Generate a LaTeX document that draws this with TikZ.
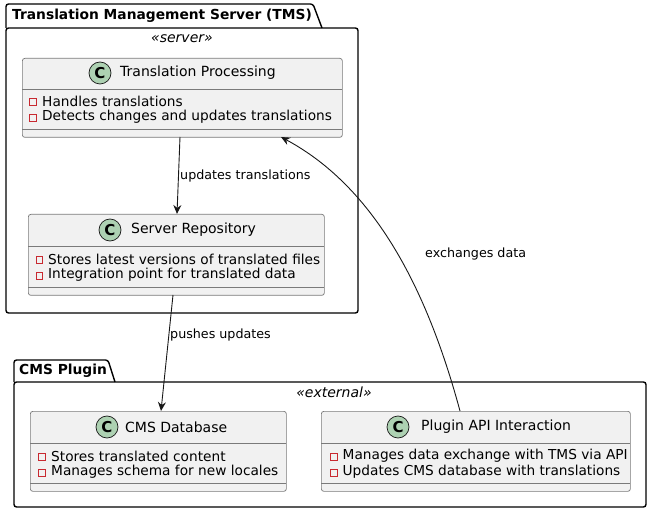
\documentclass[tikz,border=0pt]{standalone}
\usepackage{fontspec}
\setmainfont{DejaVu Sans}
\usetikzlibrary{arrows.meta}

\definecolor{clsfill}{HTML}{F1F1F1}
\definecolor{clsline}{HTML}{7A7A7A}
\definecolor{circfill}{HTML}{ADD1B2}
\definecolor{privred}{HTML}{C82930}
\definecolor{ink}{HTML}{181818}

\begin{document}
\begin{tikzpicture}[x=1pt,y=-1pt,>={Stealth[length=9pt,width=8pt,inset=3pt]},
      pkg/.style={draw=black,line width=1.4pt,rounded corners=2.5pt},
      pkgtitle/.style={font=\fontsize{13.8}{16}\selectfont\bfseries,anchor=west,inner sep=0pt},
      stereo/.style={font=\fontsize{14}{16}\selectfont\itshape,inner sep=0pt},
      cls/.style={draw=clsline,fill=clsfill,line width=0.7pt,rounded corners=2.5pt,anchor=north west,inner sep=0pt},
      sep/.style={draw=clsline,line width=0.7pt},
      circ/.style={circle,draw=ink,fill=circfill,line width=0.7pt,minimum size=22pt,inner sep=0pt,font=\fontsize{15}{15}\selectfont\bfseries},
      clsname/.style={font=\fontsize{14}{16}\selectfont,anchor=west,inner sep=0pt},
      attr/.style={font=\fontsize{13.7}{16}\selectfont,anchor=west,inner sep=0pt},
      priv/.style={draw=privred,line width=0.8pt,minimum size=6.5pt,inner sep=0pt},
      link/.style={draw=ink,line width=0.9pt},
      linklabel/.style={font=\fontsize{12.7}{15}\selectfont,anchor=west,inner sep=0pt}]

      \useasboundingbox (0,0) rectangle (651,513);

      % package TMS
      \draw[pkg] (6,28) -- (6,4) -- (313,4) -- (322,28);
      \draw[pkg] (6,28) rectangle (358,313);
      \node[pkgtitle] (tmsT) at (12,16) {Translation Management Server (TMS)};
      \node[stereo] (tmsS) at (182,39) {«server»};

      % Translation Processing
      \node[cls,minimum width=320pt,minimum height=79pt] (proc) at (22,58) {};
      \draw[sep] (22,89) -- (342,89);
      \draw[sep] (22,129) -- (342,129);
      \node[circ] (procC) at (100,73) {C};
      \node[clsname] (procN) at (120,73) {Translation Processing};
      \node[priv] (procP1) at (33,102) {};
      \node[attr] (procA1) at (42,101) {Handles translations};
      \node[priv] (procP2) at (33,118) {};
      \node[attr] (procA2) at (42,117) {Detects changes and updates translations};

      % Server Repository
      \node[cls,minimum width=296pt,minimum height=81pt] (repo) at (28,214) {};
      \draw[sep] (28,246) -- (324,246);
      \draw[sep] (28,287) -- (324,287);
      \node[circ] (repoC) at (110,230) {C};
      \node[clsname] (repoN) at (131,230) {Server Repository};
      \node[priv] (repoP1) at (39.5,260) {};
      \node[attr] (repoA1) at (48,259) {Stores latest versions of translated files};
      \node[priv] (repoP2) at (39.5,276) {};
      \node[attr] (repoA2) at (48,275) {Integration point for translated data};

      % package CMS Plugin
      \draw[pkg] (14,382) -- (14,360) -- (108,360) -- (115,382);
      \draw[pkg] (14,382) rectangle (646,507);
      \node[pkgtitle] (cmsT) at (19,371) {CMS Plugin};
      \node[stereo] (cmsS) at (334,392) {«external»};

      % CMS Database
      \node[cls,minimum width=256pt,minimum height=80pt] (cmsdb) at (30,411) {};
      \draw[sep] (30,443) -- (286,443);
      \draw[sep] (30,483) -- (286,483);
      \node[circ] (cmsdbC) at (107,427) {C};
      \node[clsname] (cmsdbN) at (125,427) {CMS Database};
      \node[priv] (cmsdbP1) at (42,457) {};
      \node[attr] (cmsdbA1) at (51,456) {Stores translated content};
      \node[priv] (cmsdbP2) at (42,473) {};
      \node[attr] (cmsdbA2) at (51,472) {Manages schema for new locales};

      % Plugin API Interaction
      \node[cls,minimum width=309pt,minimum height=80pt] (api) at (321,411) {};
      \draw[sep] (321,443) -- (630,443);
      \draw[sep] (321,483) -- (630,483);
      \node[circ] (apiC) at (398,427) {C};
      \node[clsname] (apiN) at (421,427) {Plugin API Interaction};
      \node[priv] (apiP1) at (334,457) {};
      \node[attr] (apiA1) at (342.5,456) {Manages data exchange with TMS via API};
      \node[priv] (apiP2) at (334,473) {};
      \node[attr] (apiA2) at (342.5,472) {Updates CMS database with translations};

      % links
      \coordinate (procBot) at (180,137);
      \coordinate (repoTop) at (177,214);
      \coordinate (repoBot) at (173,295);
      \coordinate (cmsdbTop) at (161,411);
      \coordinate (apiTop) at (460,411);
      \coordinate (procTip) at (281,137);

      \draw[link,->] (procBot) -- (repoTop);
      \node[linklabel] (l1) at (180,176) {updates translations};

      \draw[link,->] (repoBot) -- (cmsdbTop);
      \node[linklabel] (l2) at (170,335) {pushes updates};

      \draw[link,->] (apiTop) .. controls (430,300) and (380,190) .. (procTip);
      \node[linklabel] (l3) at (425,254) {exchanges data};
    \end{tikzpicture}
\end{document}
